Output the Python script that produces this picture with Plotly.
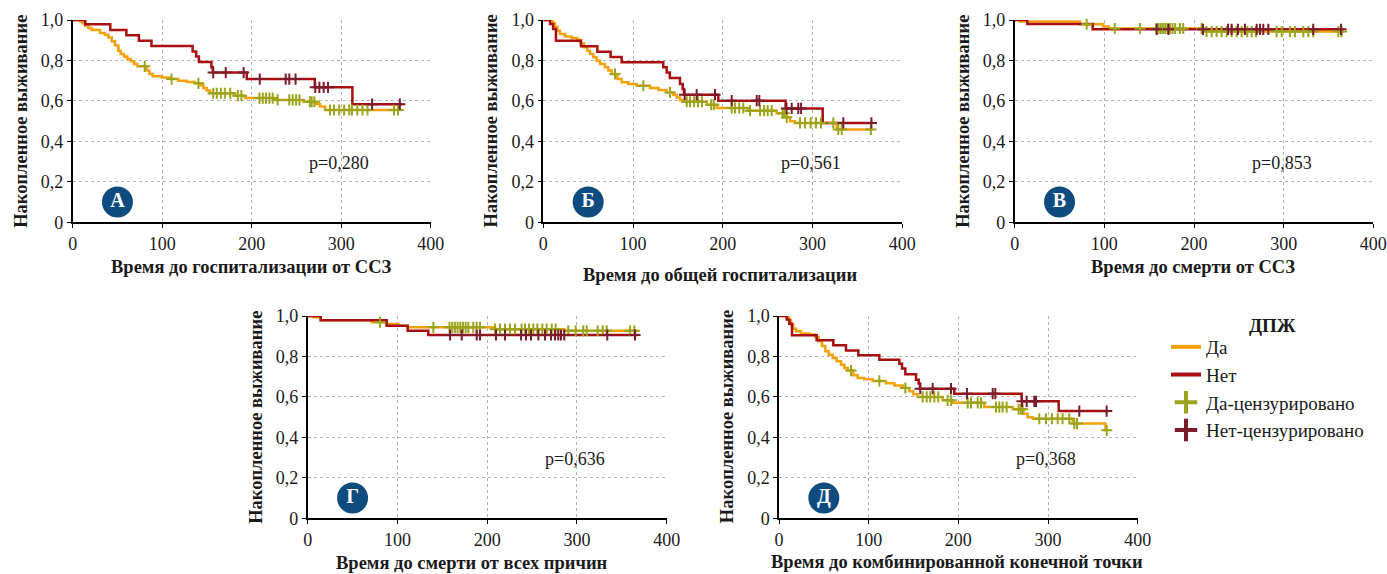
import numpy as np
import plotly.graph_objects as go

W, H = 1387, 574
FONT = "Liberation Serif, Times New Roman, serif"

# ---------------- survival data (time in days, cumulative survival) ----------------
# A: hospitalisation for cardiovascular disease
hosp_cvd_yes_t = [8.2, 11.2, 13.8, 17.5, 21.2, 30.5, 36, 39.9, 43.6, 47.3, 51, 53.6, 57.4, 61, 64.8,
                  68.5, 72.3, 82.7, 85.7, 89.4, 99.4, 108.8, 118, 127.4, 136.7, 143, 146, 149.7,
                  153.4, 181.4, 192.6, 228, 257.7, 270.8, 276.3, 282]
hosp_cvd_yes_s = [0.993, 0.984, 0.972, 0.960, 0.951, 0.936, 0.927, 0.914, 0.895, 0.874, 0.848, 0.832,
                  0.819, 0.807, 0.796, 0.783, 0.771, 0.750, 0.733, 0.722, 0.716, 0.708, 0.700, 0.694,
                  0.687, 0.677, 0.664, 0.651, 0.638, 0.626, 0.614, 0.605, 0.596, 0.585, 0.572, 0.555]
hosp_cvd_yes_end = 367
hosp_cvd_yes_cens = [80.5, 110.5, 140.5, 157, 161, 165.5, 170, 176, 184.5, 188.5, 208.7, 212.4, 216,
                     219.8, 223.5, 229, 242, 245.8, 249.6, 253.3, 265, 267, 270, 287.5, 292, 297.8,
                     303.3, 309, 312, 318, 323.8, 329.4, 359, 363.5]
hosp_cvd_no_t = [14, 42, 60, 74, 88, 134, 138, 141, 155, 156.5, 194.5, 270.5, 312.5]
hosp_cvd_no_s = [0.979, 0.951, 0.924, 0.897, 0.871, 0.844, 0.820, 0.793, 0.767, 0.740, 0.708, 0.667, 0.584]
hosp_cvd_no_end = 368
hosp_cvd_no_cens = [157, 171, 191, 209, 238, 242, 249, 271, 275.6, 280.4, 285.3, 334.5, 365.5]

# Б: all-cause hospitalisation
hosp_all_yes_t = [10.4, 13, 15.6, 18.6, 24.2, 31.6, 37.9, 41.6, 45.3, 49.1, 52, 55.7, 59.4, 63.2, 68.7,
                  72.5, 76.2, 82.5, 87.3, 94.7, 104, 118.9, 128.2, 137.5, 144.9, 148.6, 152.3, 155.3,
                  182, 193.2, 228.4, 260, 271, 274.9, 280.4, 326.9]
hosp_all_yes_s = [0.984, 0.967, 0.947, 0.931, 0.918, 0.911, 0.901, 0.885, 0.865, 0.848, 0.832, 0.816,
                  0.799, 0.783, 0.766, 0.750, 0.733, 0.708, 0.692, 0.684, 0.675, 0.664, 0.654, 0.642,
                  0.631, 0.617, 0.604, 0.596, 0.581, 0.565, 0.552, 0.539, 0.519, 0.499, 0.491, 0.459]
hosp_all_yes_end = 366.6
hosp_all_yes_cens = [79.9, 111.5, 141.2, 159.8, 163.5, 168, 172.4, 176.8, 187, 190, 209.9, 213.6, 218.4,
                     222.8, 230.3, 241.5, 246, 250, 254.5, 266.7, 268.5, 271.2, 286, 291.6, 297.9, 303.8,
                     309.4, 323.1, 328.7, 332.5, 365]
hosp_all_no_t = [7.5, 10.9, 14.1, 42, 60.2, 75, 87.3, 133.7, 137.5, 141, 152.3, 155.3, 156.8, 195, 270, 311.3]
hosp_all_no_s = [0.980, 0.955, 0.898, 0.870, 0.843, 0.817, 0.791, 0.766, 0.741, 0.713, 0.684, 0.659,
                 0.631, 0.601, 0.563, 0.491]
hosp_all_no_end = 366.6
hosp_all_no_cens = [157.5, 170.9, 191.3, 209.9, 237.8, 240.7, 271, 276.8, 284.1, 287.2, 334.3, 365.6]

# В: cardiovascular death
death_cvd_yes_t = [5.9, 72.8, 98.8, 105, 212]
death_cvd_yes_s = [0.992, 0.979, 0.968, 0.958, 0.943]
death_cvd_yes_end = 366.5
death_cvd_yes_cens = [80.3, 111.6, 139.7, 158, 160.5, 163, 165.5, 168, 170.5, 173, 176, 179, 184.3, 188,
                      208.5, 214, 219.7, 225.2, 230.8, 236.4, 242, 247.6, 253.1, 259.4, 264.3, 269.1,
                      292.2, 297.8, 307, 312.6, 321.9, 327.5, 333, 361, 364.7]
death_cvd_no_t = [14.1, 87]
death_cvd_no_s = [0.980, 0.954]
death_cvd_no_end = 366.5
death_cvd_no_cens = [158.4, 171.5, 210, 238, 242, 249, 256.8, 269.9, 273.6, 277.3, 282.9, 333, 363.9]

# Г: all-cause death
death_all_yes_t = [6.3, 14.5, 71.3, 88, 101, 111.4, 208.7, 286]
death_all_yes_s = [0.994, 0.979, 0.969, 0.960, 0.952, 0.944, 0.935, 0.927]
death_all_yes_end = 367.7
death_all_yes_cens = [80.5, 140, 158, 161, 164, 167, 170, 173, 176, 179, 184.5, 188.3, 192, 208.7, 214.3,
                      219.8, 225.4, 231, 238.4, 242.1, 246.6, 251.4, 255.8, 261.4, 266.3, 271.9, 276.3,
                      290.4, 298.6, 307, 310.9, 323.1, 328.7, 333.1, 359.1, 363.9]
death_all_no_t = [14.5, 88, 111.4, 134.4]
death_all_no_s = [0.979, 0.952, 0.927, 0.906]
death_all_no_end = 367.7
death_all_no_cens = [158.6, 171.6, 188.3, 192, 209.8, 219.8, 237.7, 243.2, 248.8, 257, 264.4, 271.1,
                     275.5, 279.2, 282.2, 285.9, 333.8, 364.7]

# Д: combined end point
combined_yes_t = [10.8, 13.4, 16, 19, 24.5, 33.8, 40.5, 44.2, 48, 51.7, 55.4, 59.8, 64.3, 69.1, 72.9,
                  76.6, 82.9, 87.7, 95.2, 104.4, 119.3, 128.6, 137.9, 145.3, 149.8, 154.6, 182.5,
                  193.6, 229, 260.6, 272.5, 277.3, 283, 327.5, 364]
combined_yes_s = [0.979, 0.957, 0.937, 0.924, 0.913, 0.908, 0.896, 0.875, 0.852, 0.826, 0.809, 0.792,
                  0.776, 0.759, 0.743, 0.730, 0.707, 0.694, 0.687, 0.679, 0.667, 0.657, 0.644, 0.628,
                  0.613, 0.600, 0.583, 0.571, 0.550, 0.539, 0.517, 0.500, 0.492, 0.468, 0.435]
combined_yes_end = 365.5
combined_yes_cens = [80.3, 111.9, 140.9, 160.2, 164.7, 168.7, 173.2, 177.6, 188, 192, 210.4, 214.1,
                     221.6, 225.2, 242, 245.7, 249.4, 253.9, 267.2, 269.8, 271.7, 290.3, 297.7, 304.4,
                     310.8, 316.3, 323.7, 329.3, 332.3, 365.5]
combined_no_t = [8.6, 11.5, 14.5, 42, 60.6, 74.7, 88.5, 111.9, 134.2, 137.2, 140.9, 152.8, 155.8,
                 157.2, 195.5, 270.6, 311.9]
combined_no_s = [0.983, 0.962, 0.905, 0.880, 0.855, 0.830, 0.806, 0.784, 0.764, 0.740, 0.712, 0.685,
                 0.666, 0.641, 0.616, 0.578, 0.530]
combined_no_end = 367.3
combined_no_cens = [157.5, 171.4, 191.8, 209.6, 238.3, 241.2, 271, 276.2, 284.7, 286.6, 334.9, 365.4]

# ---------------- labels ----------------
panel_letters = ["А", "Б", "В", "Г", "Д"]
p_values = ["p=0,280", "p=0,561", "p=0,853", "p=0,636", "p=0,368"]
x_titles = ["Время до госпитализации от ССЗ", "Время до общей госпитализации",
            "Время до смерти от ССЗ", "Время до смерти от всех причин",
            "Время до комбинированной конечной точки"]
y_title = "Накопленное выживание"
x_tickvals = [0, 100, 200, 300, 400]
y_tickvals = [0, 0.2, 0.4, 0.6, 0.8, 1.0]
y_ticktext = ["0", "0,2", "0,4", "0,6", "0,8", "1,0"]
legend_title = "ДПЖ"
legend_names = ["Да", "Нет", "Да-цензурировано", "Нет-цензурировано"]

# ---------------- styling ----------------
C_YES = "#F5A10A"
C_NO = "#A90F10"
C_YES_CENS = "#9AA51C"
C_NO_CENS = "#7D1B2B"
C_BADGE = "#0E4B7F"
GRID = "#B4B4B4"
TXT = "#1a1a1a"

series = [
    (hosp_cvd_yes_t, hosp_cvd_yes_s, hosp_cvd_yes_end, hosp_cvd_yes_cens,
     hosp_cvd_no_t, hosp_cvd_no_s, hosp_cvd_no_end, hosp_cvd_no_cens),
    (hosp_all_yes_t, hosp_all_yes_s, hosp_all_yes_end, hosp_all_yes_cens,
     hosp_all_no_t, hosp_all_no_s, hosp_all_no_end, hosp_all_no_cens),
    (death_cvd_yes_t, death_cvd_yes_s, death_cvd_yes_end, death_cvd_yes_cens,
     death_cvd_no_t, death_cvd_no_s, death_cvd_no_end, death_cvd_no_cens),
    (death_all_yes_t, death_all_yes_s, death_all_yes_end, death_all_yes_cens,
     death_all_no_t, death_all_no_s, death_all_no_end, death_all_no_cens),
    (combined_yes_t, combined_yes_s, combined_yes_end, combined_yes_cens,
     combined_no_t, combined_no_s, combined_no_end, combined_no_cens),
]

# plot areas in pixels: (left, right, top, bottom)
boxes = [
    (72.7, 430.7, 20, 222.3),
    (543.3, 902.3, 20, 222.3),
    (1014.7, 1373.3, 20, 222.3),
    (307.7, 666.7, 316, 518.3),
    (779, 1137.7, 316, 518.3),
]
# centre of the x-axis title in pixels
x_title_pos = [(251.7, 267), (720, 275), (1193, 267), (471.5, 563), (957, 562)]


def step_xy(t, s, end):
    return [0] + list(t) + [end], [1.0] + list(s) + [s[-1]]


def surv_at(t, s, times):
    levels = np.array([1.0] + list(s))
    idx = np.searchsorted(np.array(t), np.array(times), side="right")
    return levels[idx]


fig = go.Figure()
layout_axes = {}
annotations = []

for i, (box, data) in enumerate(zip(boxes, series)):
    n = "" if i == 0 else str(i + 1)
    xa, ya = "x" + n, "y" + n
    left, right, top, bottom = box
    yt, ys, yend, ycens, nt, ns, nend, ncens = data

    for t, s, end, col in ((yt, ys, yend, C_YES), (nt, ns, nend, C_NO)):
        sx, sy = step_xy(t, s, end)
        fig.add_trace(go.Scatter(x=sx, y=sy, mode="lines", line=dict(color=col, width=2.5, shape="hv"),
                                 xaxis=xa, yaxis=ya, showlegend=False, hoverinfo="skip"))
    for t, s, cens, col in ((yt, ys, ycens, C_YES_CENS), (nt, ns, ncens, C_NO_CENS)):
        fig.add_trace(go.Scatter(x=cens, y=surv_at(t, s, cens), mode="markers",
                                 marker=dict(symbol="cross-thin", size=8, line=dict(color=col, width=2)),
                                 xaxis=xa, yaxis=ya, showlegend=False, hoverinfo="skip", cliponaxis=False))

    # panel badge
    fig.add_trace(go.Scatter(x=[50], y=[0.1], mode="markers+text", text=[panel_letters[i]],
                             textposition="middle center",
                             textfont=dict(family=FONT, size=20, color="white", weight="bold"),
                             marker=dict(size=31, color=C_BADGE), xaxis=xa, yaxis=ya,
                             showlegend=False, hoverinfo="skip"))

    axis_common = dict(showline=True, linecolor="black", linewidth=1.5, ticks="outside", ticklen=4,
                       tickwidth=1, tickcolor="black", showgrid=True, gridcolor=GRID, griddash="dot",
                       gridwidth=1, zeroline=False, automargin=False,
                       tickfont=dict(family=FONT, size=18, color=TXT), fixedrange=True)
    layout_axes["xaxis" + n] = dict(axis_common, domain=[left / W, right / W], range=[0, 400],
                                    tickvals=x_tickvals, anchor=ya)
    layout_axes["yaxis" + n] = dict(axis_common, domain=[1 - bottom / H, 1 - top / H], range=[0, 1.0],
                                    tickvals=y_tickvals, ticktext=y_ticktext, anchor=xa)

    annotations.append(dict(x=298, y=0.295, xref=xa, yref=ya, text=p_values[i], showarrow=False,
                            font=dict(family=FONT, size=18, color=TXT)))
    tx, ty = x_title_pos[i]
    annotations.append(dict(x=tx / W, y=1 - ty / H, xref="paper", yref="paper", text=x_titles[i],
                            showarrow=False, xanchor="center", yanchor="middle",
                            font=dict(family=FONT, size=18.5, color=TXT, weight="bold")))
    annotations.append(dict(x=(left - 52) / W, y=1 - (top + bottom) / 2 / H, xref="paper", yref="paper",
                            text=y_title, textangle=-90, showarrow=False, xanchor="center",
                            yanchor="middle",
                            font=dict(family=FONT, size=18.5, color=TXT, weight="bold")))

# legend heading
annotations.append(dict(x=1272 / W, y=1 - 325 / H, xref="paper", yref="paper", text=legend_title,
                        showarrow=False, xanchor="center", yanchor="middle",
                        font=dict(family=FONT, size=19, color=TXT, weight="bold")))

# legend entries
legend_styles = [
    dict(mode="lines", line=dict(color=C_YES, width=4)),
    dict(mode="lines", line=dict(color=C_NO, width=4)),
    dict(mode="markers", marker=dict(symbol="cross-thin", size=16, line=dict(color=C_YES_CENS, width=4))),
    dict(mode="markers", marker=dict(symbol="cross-thin", size=16, line=dict(color=C_NO_CENS, width=4))),
]
for k, (name, st) in enumerate(zip(legend_names, legend_styles)):
    fig.add_trace(go.Scatter(x=[None], y=[None], name=name, legendgroup=str(k), showlegend=True, **st))

fig.update_layout(
    width=W, height=H, margin=dict(l=0, r=0, t=0, b=0, pad=0, autoexpand=False),
    paper_bgcolor="white", plot_bgcolor="white",
    font=dict(family=FONT, color=TXT),
    annotations=annotations,
    legend=dict(x=1166 / W, y=1 - 328 / H, xanchor="left", yanchor="top",
                font=dict(family=FONT, size=19), traceorder="grouped", tracegroupgap=0,
                bgcolor="rgba(0,0,0,0)"),
    **layout_axes,
)

fig.write_html("out.html")
